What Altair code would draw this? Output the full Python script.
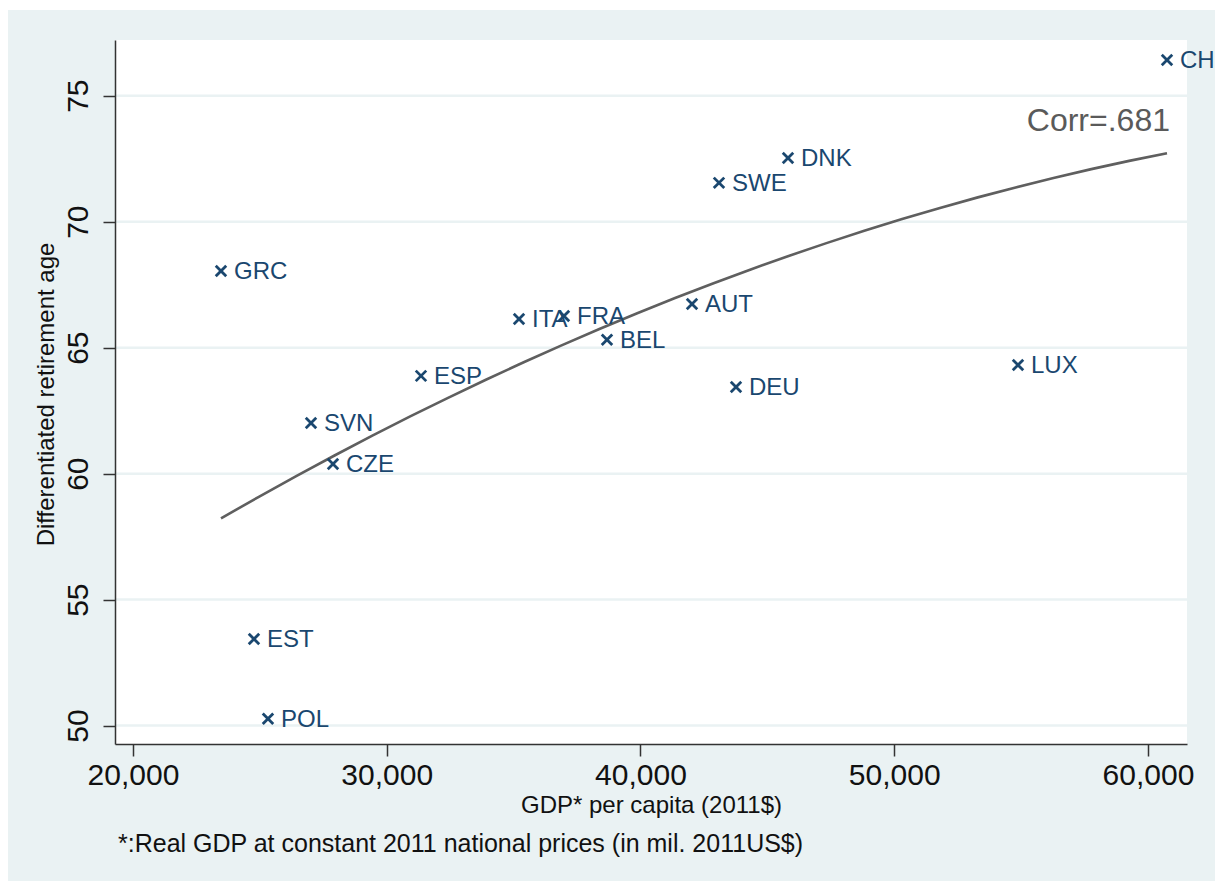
import altair as alt
import pandas as pd

# ---- data ----
countries = ["GRC", "EST", "POL", "SVN", "CZE", "ESP", "ITA", "FRA", "BEL",
             "AUT", "DEU", "SWE", "DNK", "LUX", "CHE"]
gdp = [23468, 24768, 25320, 27015, 27882, 31350, 35212, 36985, 38680,
       42030, 43764, 43094, 45813, 54877, 60749]
ret_age = [68.04, 53.44, 50.27, 62.01, 60.38, 63.88, 66.14, 66.26, 65.31,
           66.73, 63.44, 71.54, 72.53, 64.31, 76.42]

x_ticks = [20000, 30000, 40000, 50000, 60000]
y_ticks = [50, 55, 60, 65, 70, 75]

corr_text = ["Corr=.681"]
corr_x = [60867]
corr_y = [74.0]

x_title = "GDP* per capita (2011$)"
y_title = "Differentiated retirement age"
footnote = ["*:Real GDP at constant 2011 national prices (in mil. 2011US$)"]

# ---- layout ----
W, H = 1072, 704
FONT = "Liberation Sans"
NAVY = "#1a476f"
BG = "#eaf2f3"

df = pd.DataFrame({"country": countries, "gdp": gdp, "age": ret_age})
grid_df = pd.DataFrame({"gdp": [x_ticks[0]] * len(y_ticks), "age": y_ticks})
corr_df = pd.DataFrame({"gdp": corr_x, "age": corr_y, "txt": corr_text})
note_df = pd.DataFrame({"txt": footnote})
one = pd.DataFrame({"k": [0]})

x_scale = alt.Scale(domain=[19291, 61537], nice=False, zero=False)
y_scale = alt.Scale(domain=[49.27, 77.21], nice=False, zero=False)

x_axis = alt.Axis(
    values=x_ticks, format=",d", grid=False, title=x_title,
    labelFontSize=30, labelFont=FONT, labelColor="#111111", labelPadding=4,
    labelBaseline="top",
    tickSize=12, tickColor="#333333", tickWidth=1.5,
    domainColor="#333333", domainWidth=1.5,
    titleFontSize=24, titleFont=FONT, titleFontWeight="normal", titleColor="#111111",
    titleY=61, titleBaseline="middle", zindex=1,
)
y_axis = alt.Axis(
    values=y_ticks, grid=False, title=y_title,
    labelFontSize=30, labelFont=FONT, labelColor="#111111", labelPadding=16,
    labelAngle=270, labelAlign="center", labelBaseline="alphabetic",
    tickSize=12, tickColor="#333333", tickWidth=1.5,
    domainColor="#333333", domainWidth=1.5,
    titleFontSize=24, titleFont=FONT, titleFontWeight="normal", titleColor="#111111",
    titleAngle=270, titleX=-69, titleY=354, titleAlign="center", titleBaseline="middle",
    zindex=1,
)

X = alt.X("gdp:Q", scale=x_scale, axis=x_axis)
Y = alt.Y("age:Q", scale=y_scale, axis=y_axis)

outer_bg = alt.Chart(one).mark_rect(color=BG).encode(
    x=alt.value(-107), x2=alt.value(W + 60), y=alt.value(-30), y2=alt.value(H + 160)
)
plot_bg = alt.Chart(one).mark_rect(color="white").encode(
    x=alt.value(0), x2=alt.value(W), y=alt.value(0), y2=alt.value(H)
)
grid = alt.Chart(grid_df).mark_rule(color=BG, strokeWidth=2.5).encode(
    y=Y, x=alt.value(0), x2=alt.value(W)
)
fit = alt.Chart(df).transform_regression(
    "gdp", "age", method="poly", order=2
).mark_line(color="#5f5f5f", strokeWidth=2.6).encode(x=X, y=Y)

points = alt.Chart(df).mark_point(
    shape="M-1,-1L1,1M-1,1L1,-1", size=110, strokeWidth=2.8,
    color=NAVY, filled=False, opacity=1
).encode(x=X, y=Y)

labels = alt.Chart(df).mark_text(
    align="left", baseline="middle", dx=13, dy=1, fontSize=24, font=FONT, color=NAVY
).encode(x=X, y=Y, text="country:N")

corr = alt.Chart(corr_df).mark_text(
    align="right", baseline="middle", fontSize=32, font=FONT, color="#5a5a5a"
).encode(x=X, y=Y, text="txt:N")

note = alt.Chart(note_df).mark_text(
    align="left", baseline="middle", fontSize=25, font=FONT, color="#111111"
).encode(x=alt.value(3), y=alt.value(804), text="txt:N")

chart = alt.layer(
    outer_bg, plot_bg, grid, fit, points, labels, corr, note
).properties(
    width=W, height=H,
    autosize=alt.AutoSizeParams(type="none"),
    padding={"left": 115, "top": 40, "right": 28, "bottom": 137},
    background="white",
).configure_view(strokeWidth=0).configure(font=FONT)

chart.save("out.html", embed_options={"renderer": "svg", "actions": False})
